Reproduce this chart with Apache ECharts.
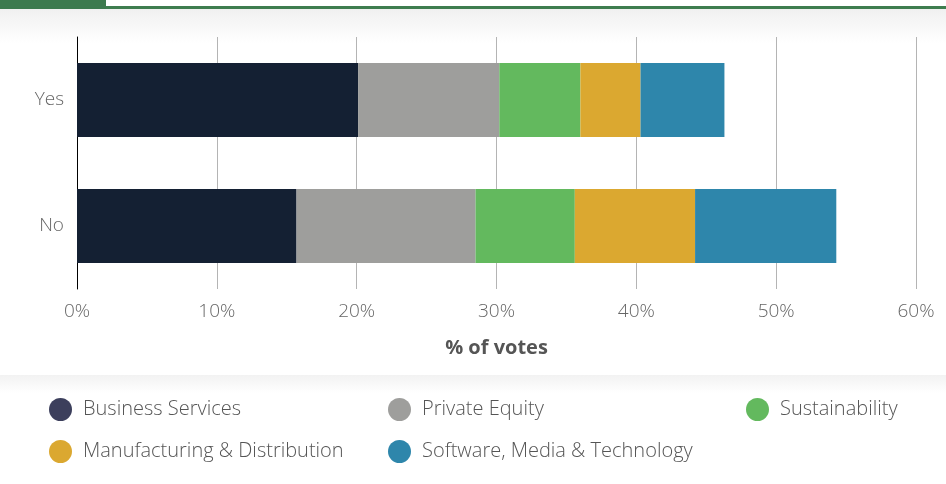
<!DOCTYPE html>
<html>
<head>
<meta charset="utf-8">
<script src="https://cdn.jsdelivr.net/npm/echarts@6/dist/echarts.min.js"></script>
<style>
  html, body { margin: 0; padding: 0; background: #ffffff; }
  #chart { width: 946px; height: 484px; }
</style>
</head>
<body>
<div id="chart"></div>
<script>
// Answers on the vertical axis, top to bottom
const answers = ['Yes', 'No'];

// Share of votes (%) by sector, one value per answer
const businessServices = [20.1, 15.7];
const privateEquity = [10.1, 12.8];
const sustainability = [5.8, 7.1];
const manufacturing = [4.3, 8.6];
const softwareMedia = [6.0, 10.1];

// Horizontal axis ticks (%)
const tickValues = [0, 10, 20, 30, 40, 50, 60];

const seriesDefs = [
  { name: 'Business Services', values: businessServices, color: '#142033', dot: '#3c3f5c', left: 49, top: 398 },
  { name: 'Private Equity', values: privateEquity, color: '#9e9e9c', dot: '#9e9e9c', left: 388, top: 398 },
  { name: 'Sustainability', values: sustainability, color: '#63b95e', dot: '#63b95e', left: 746, top: 398 },
  { name: 'Manufacturing & Distribution', values: manufacturing, color: '#dba830', dot: '#dba830', left: 49, top: 440 },
  { name: 'Software, Media & Technology', values: softwareMedia, color: '#2e86ab', dot: '#2e86ab', left: 388, top: 440 }
];

const font = '"Open Sans", Roboto, "Liberation Sans", Arial, sans-serif';

const chart = echarts.init(document.getElementById('chart'), null, { renderer: 'canvas' });

chart.setOption({
  backgroundColor: '#ffffff',
  animation: false,
  graphic: [
    // header rule and tab
    { type: 'rect', shape: { x: 0, y: 6, width: 946, height: 3 }, style: { fill: '#3e7d4f' }, z: 1 },
    { type: 'rect', shape: { x: 0, y: 0, width: 106, height: 9 }, style: { fill: '#3c7a4e' }, z: 1 },
    // soft shade under the header
    {
      type: 'rect', shape: { x: 0, y: 9, width: 946, height: 34 }, z: 0, silent: true,
      style: { fill: new echarts.graphic.LinearGradient(0, 0, 0, 1, [
        { offset: 0, color: '#f0f0f0' }, { offset: 1, color: '#ffffff' }
      ]) }
    },
    // shade above the legend panel
    {
      type: 'rect', shape: { x: 0, y: 375, width: 946, height: 18 }, z: 0, silent: true,
      style: { fill: new echarts.graphic.LinearGradient(0, 0, 0, 1, [
        { offset: 0, color: '#f2f2f2' }, { offset: 1, color: '#ffffff' }
      ]) }
    }
  ],
  grid: { left: 77, right: 30, top: 37, bottom: 195, containLabel: false },
  xAxis: {
    type: 'value',
    min: tickValues[0],
    max: tickValues[tickValues.length - 1],
    interval: 10,
    name: '% of votes',
    nameLocation: 'middle',
    nameGap: 49,
    nameTextStyle: { fontFamily: font, fontSize: 20, fontWeight: 'bold', color: '#555555' },
    axisLine: { show: false },
    axisTick: { show: false },
    axisLabel: {
      fontFamily: font, fontSize: 19, fontWeight: 300, color: '#666666', margin: 13,
      formatter: v => v + '%'
    },
    splitLine: { show: true, lineStyle: { color: '#b4b4b4', width: 1 } }
  },
  yAxis: {
    type: 'category',
    data: answers,
    inverse: true,
    axisLine: { show: true, lineStyle: { color: '#000000', width: 1 } },
    axisTick: { show: false },
    axisLabel: { fontFamily: font, fontSize: 19, fontWeight: 300, color: '#666666', margin: 13 },
    splitLine: { show: false }
  },
  legend: seriesDefs.map(s => ({
    data: [{ name: s.name, itemStyle: { color: s.dot } }],
    left: s.left,
    top: s.top,
    padding: 0,
    icon: 'circle',
    itemWidth: 23,
    itemHeight: 23,
    selectedMode: false,
    textStyle: { fontFamily: font, fontSize: 20, fontWeight: 300, color: '#555555', padding: [0, 0, 0, 6] }
  })),
  series: seriesDefs.map(s => ({
    name: s.name,
    type: 'bar',
    stack: 'votes',
    data: s.values,
    barWidth: 74,
    itemStyle: { color: s.color },
    emphasis: { disabled: true }
  }))
});
</script>
</body>
</html>
